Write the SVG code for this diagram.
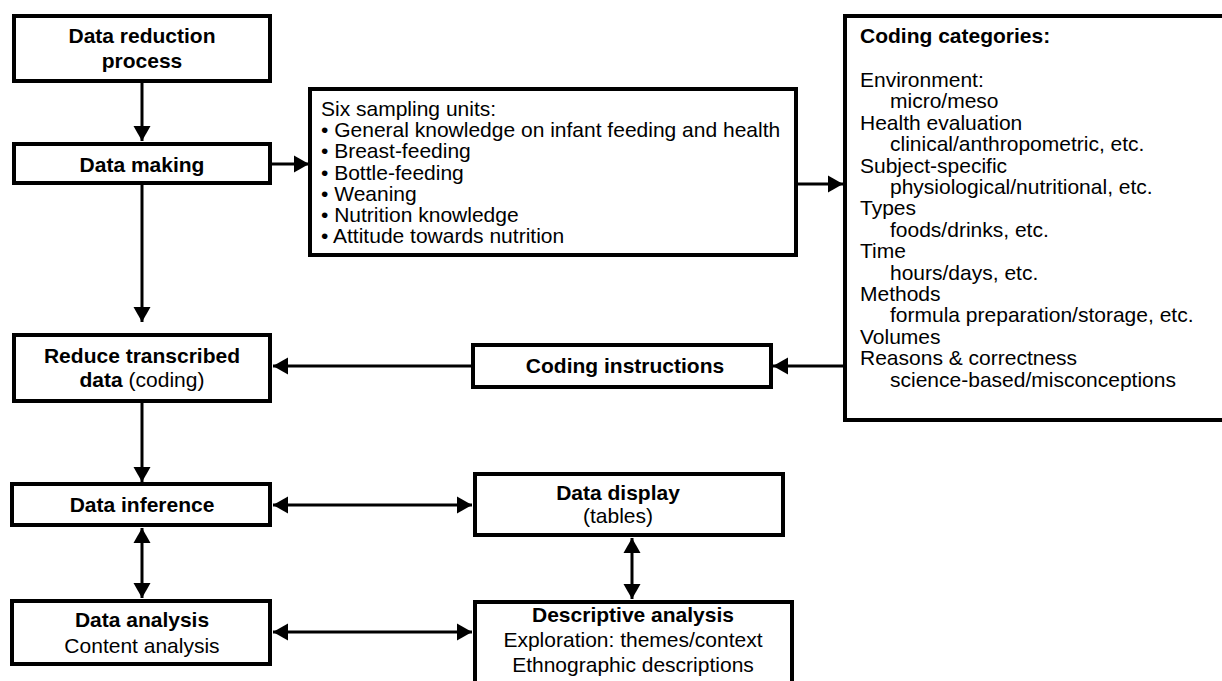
<svg xmlns="http://www.w3.org/2000/svg" width="1222" height="681" viewBox="0 0 1222 681">
<style>
.box{fill:#fff;stroke:#000;stroke-width:4}
.t{font-family:"Liberation Sans",Arial,Helvetica,sans-serif;font-size:21px;fill:#000}
.b{font-weight:bold}
.c{text-anchor:middle}
.ln{fill:none;stroke:#000;stroke-width:3}
</style>
<defs>
<marker id="ah" markerUnits="userSpaceOnUse" markerWidth="16" markerHeight="18" refX="15" refY="8.5" orient="auto-start-reverse" viewBox="0 0 16 17">
<path d="M0,0 L15,8.5 L0,17 Z" fill="#000"/>
</marker>
</defs>
<rect width="1222" height="681" fill="#fff"/>
<g id="connectors">
<line class="ln" x1="142" y1="83" x2="142" y2="141" marker-end="url(#ah)"/>
<line class="ln" x1="272" y1="164" x2="309" y2="164" marker-end="url(#ah)"/>
<line class="ln" x1="792" y1="184" x2="843" y2="184" marker-end="url(#ah)"/>
<line class="ln" x1="142" y1="185" x2="142" y2="322" marker-end="url(#ah)"/>
<line class="ln" x1="843" y1="366" x2="773" y2="366" marker-end="url(#ah)"/>
<line class="ln" x1="471" y1="366" x2="273" y2="366" marker-end="url(#ah)"/>
<line class="ln" x1="142" y1="403" x2="142" y2="482" marker-end="url(#ah)"/>
<line class="ln" x1="142" y1="528" x2="142" y2="598" marker-start="url(#ah)" marker-end="url(#ah)"/>
<line class="ln" x1="273" y1="505" x2="472" y2="505" marker-start="url(#ah)" marker-end="url(#ah)"/>
<line class="ln" x1="273" y1="632" x2="472" y2="632" marker-start="url(#ah)" marker-end="url(#ah)"/>
<line class="ln" x1="632" y1="538" x2="632" y2="599" marker-start="url(#ah)" marker-end="url(#ah)"/>
</g>
<g id="n-reduction">
<rect class="box" x="14" y="16" width="256" height="65"/>
<text class="t b c" x="142" y="43">Data reduction</text>
<text class="t b c" x="142" y="68">process</text>
</g>
<g id="n-making">
<rect class="box" x="14" y="144" width="256" height="39"/>
<text class="t b c" x="142" y="172">Data making</text>
</g>
<g id="n-sampling">
<rect class="box" x="310" y="89" width="486" height="166"/>
<text class="t" x="321" y="116">Six sampling units:</text>
<text class="t" x="321" y="137">• General knowledge on infant feeding and health</text>
<text class="t" x="321" y="158">• Breast-feeding</text>
<text class="t" x="321" y="180">• Bottle-feeding</text>
<text class="t" x="321" y="201">• Weaning</text>
<text class="t" x="321" y="222">• Nutrition knowledge</text>
<text class="t" x="321" y="243">• Attitude towards nutrition</text>
</g>
<g id="n-categories">
<rect class="box" x="845" y="16" width="390" height="404"/>
<text class="t b" x="860" y="43">Coding categories:</text>
<text class="t" x="860" y="87">Environment:</text>
<text class="t" x="890" y="108.4">micro/meso</text>
<text class="t" x="860" y="129.8">Health evaluation</text>
<text class="t" x="890" y="151.2">clinical/anthropometric, etc.</text>
<text class="t" x="860" y="172.6">Subject-specific</text>
<text class="t" x="890" y="194">physiological/nutritional, etc.</text>
<text class="t" x="860" y="215.4">Types</text>
<text class="t" x="890" y="236.8">foods/drinks, etc.</text>
<text class="t" x="860" y="258.2">Time</text>
<text class="t" x="890" y="279.6">hours/days, etc.</text>
<text class="t" x="860" y="301">Methods</text>
<text class="t" x="890" y="322.4">formula preparation/storage, etc.</text>
<text class="t" x="860" y="343.8">Volumes</text>
<text class="t" x="860" y="365.2">Reasons &amp; correctness</text>
<text class="t" x="890" y="386.6">science-based/misconceptions</text>
</g>
<g id="n-reduce">
<rect class="box" x="14" y="335" width="256" height="66"/>
<text class="t b c" x="142" y="363">Reduce transcribed</text>
<text class="t c" x="142" y="387"><tspan class="b">data</tspan> (coding)</text>
</g>
<g id="n-instructions">
<rect class="box" x="473" y="345" width="298" height="42"/>
<text class="t b c" x="625" y="373">Coding instructions</text>
</g>
<g id="n-inference">
<rect class="box" x="12" y="484" width="258" height="41"/>
<text class="t b c" x="142" y="512">Data inference</text>
</g>
<g id="n-display">
<rect class="box" x="475" y="474" width="308" height="61"/>
<text class="t b c" x="618" y="500">Data display</text>
<text class="t c" x="618" y="523">(tables)</text>
</g>
<g id="n-analysis">
<rect class="box" x="12" y="601" width="258" height="63"/>
<text class="t b c" x="142" y="627">Data analysis</text>
<text class="t c" x="142" y="653">Content analysis</text>
</g>
<g id="n-descriptive">
<rect class="box" x="475" y="602" width="317" height="100"/>
<text class="t b c" x="633" y="622">Descriptive analysis</text>
<text class="t c" x="633" y="647">Exploration: themes/context</text>
<text class="t c" x="633" y="672">Ethnographic descriptions</text>
</g>
</svg>
